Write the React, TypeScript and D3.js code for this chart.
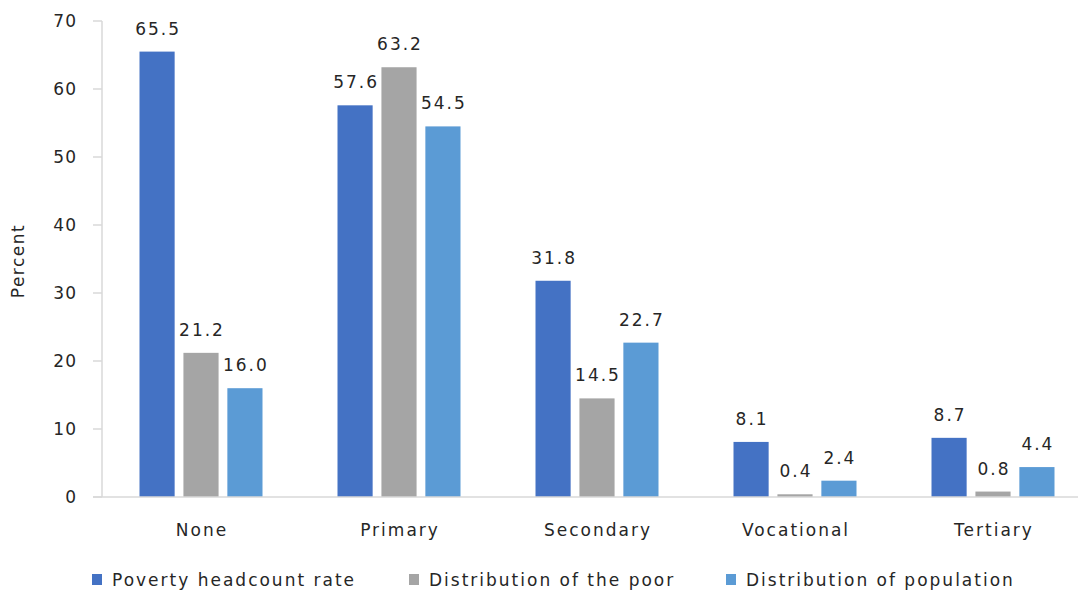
import React from "react";
import * as d3 from "d3";

const categories = ["None", "Primary", "Secondary", "Vocational", "Tertiary"];
const seriesNames = ["Poverty headcount rate", "Distribution of the poor", "Distribution of population"];
const povertyHeadcount = [65.5, 57.6, 31.8, 8.1, 8.7];
const distributionPoor = [21.2, 63.2, 14.5, 0.4, 0.8];
const distributionPopulation = [16.0, 54.5, 22.7, 2.4, 4.4];
const yTicks = [0, 10, 20, 30, 40, 50, 60, 70];
const colors = ["#4472C4", "#A5A5A5", "#5B9BD5"];

const W = 1078;
const H = 591;

export default function App() {
  const seriesValues = [povertyHeadcount, distributionPoor, distributionPopulation];
  const x0 = d3.scaleBand<string>().domain(categories).range([102, 1092]).padding(0);
  const x1 = d3.scaleBand<string>().domain(seriesNames).range([-61.5, 61.5]).paddingInner(0.2);
  const y = d3.scaleLinear().domain([0, 70]).range([497, 21]);
  const font = "'DejaVu Sans', Verdana, sans-serif";
  const axisColor = "#d9d9d9";
  const textColor = "#262626";
  const legendX = [92, 409, 726];

  return (
    <svg width={W} height={H} style={{ position: "absolute", left: 0, top: 0 }} fontFamily={font}>
      <rect width={W} height={H} fill="#fff" />
      {/* y axis */}
      <line x1={102} x2={102} y1={y(70)} y2={y(0)} stroke={axisColor} strokeWidth={1.5} />
      {yTicks.map((t) => (
        <g key={t}>
          <line x1={93} x2={102} y1={y(t)} y2={y(t)} stroke={axisColor} strokeWidth={1.5} />
          <text x={77} y={y(t)} dy="0.35em" textAnchor="end" fontSize={17} fill={textColor} letterSpacing={1}>
            {t}
          </text>
        </g>
      ))}
      <text
        transform={`translate(24,${(y(0) + y(70)) / 2 + 2}) rotate(-90)`}
        textAnchor="middle"
        fontSize={17}
        fill={textColor}
        letterSpacing={1.5}
      >
        Percent
      </text>
      {/* bars */}
      {categories.map((c, ci) => (
        <g key={c} transform={`translate(${x0(c)! + x0.bandwidth() / 2},0)`}>
          {seriesNames.map((s, si) => {
            const v = seriesValues[si][ci];
            const bx = x1(s)!;
            return (
              <g key={s}>
                <rect x={bx} y={y(v)} width={x1.bandwidth()} height={y(0) - y(v)} fill={colors[si]} />
                <text
                  x={bx + x1.bandwidth() / 2 + 1}
                  y={y(v) - 17}
                  textAnchor="middle"
                  fontSize={17}
                  fill={textColor}
                  letterSpacing={2}
                >
                  {v.toFixed(1)}
                </text>
              </g>
            );
          })}
          <text x={1} y={536} textAnchor="middle" fontSize={17} fill={textColor} letterSpacing={2}>
            {c}
          </text>
        </g>
      ))}
      {/* x axis baseline */}
      <line x1={93} x2={1078} y1={y(0)} y2={y(0)} stroke={axisColor} strokeWidth={1.5} />
      {/* legend */}
      {seriesNames.map((s, i) => (
        <g key={s}>
          <rect x={legendX[i]} y={574} width={10} height={11} fill={colors[i]} />
          <text x={legendX[i] + 20} y={586} fontSize={17} fill={textColor} letterSpacing={2}>
            {s}
          </text>
        </g>
      ))}
    </svg>
  );
}
